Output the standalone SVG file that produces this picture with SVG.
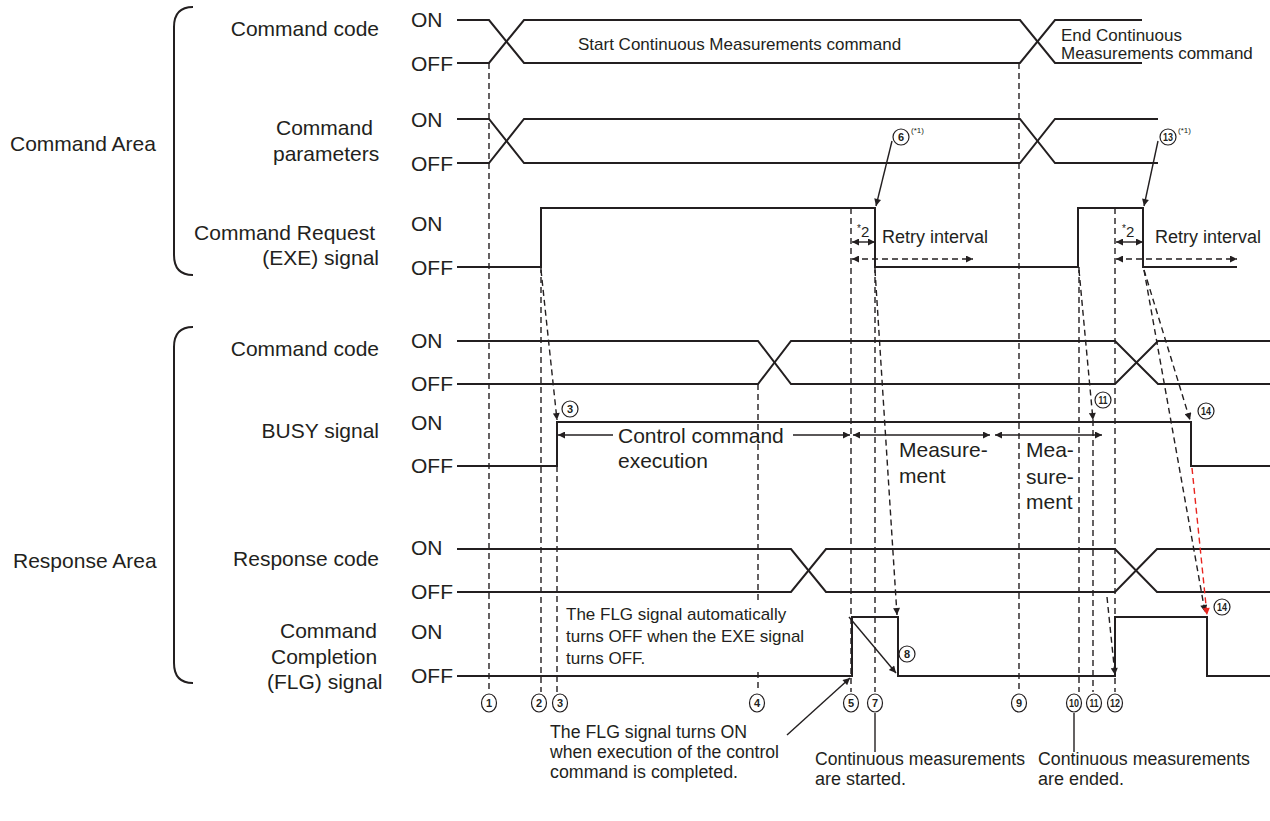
<svg xmlns="http://www.w3.org/2000/svg" width="1270" height="821" viewBox="0 0 1270 821">
<defs>
<style>
.sig{fill:none;stroke:#231f20;stroke-width:2}
.br{fill:none;stroke:#231f20;stroke-width:2}
.dash{fill:none;stroke:#231f20;stroke-width:1.4;stroke-dasharray:6 4}
.red{fill:none;stroke:#e8251f;stroke-width:1.4;stroke-dasharray:6 4}
.ln{fill:none;stroke:#231f20;stroke-width:1.4}
.t{font-family:"Liberation Sans",Arial,sans-serif;fill:#231f20}
.l21{font-size:21px}
.l18{font-size:18px}
.l17{font-size:17px}
.cn circle,.cn ellipse{fill:#fff;stroke:#231f20;stroke-width:1.2}
.cn text{font-family:"Liberation Sans",Arial,sans-serif;font-weight:bold;font-size:11px;fill:#231f20;text-anchor:middle}
.sup{font-family:"Liberation Sans",Arial,sans-serif;font-size:8px;fill:#231f20}
</style>
<marker id="ah" viewBox="0 0 10 10" refX="10" refY="5" markerWidth="9" markerHeight="7" markerUnits="userSpaceOnUse" orient="auto-start-reverse"><path d="M0,0 L10,5 L0,10 z" fill="#231f20"/></marker>
<marker id="ahr" viewBox="0 0 10 10" refX="10" refY="5" markerWidth="9" markerHeight="7" markerUnits="userSpaceOnUse" orient="auto"><path d="M0,0 L10,5 L0,10 z" fill="#e8251f"/></marker>
</defs>
<rect width="1270" height="821" fill="#fff"/>

<g id="command-area">
<path class="br" d="M193,7 Q174,7 174,27 V255 Q174,275 193,275"/>
<text class="t l21" x="10" y="151">Command Area</text>
</g>
<g id="response-area">
<path class="br" d="M193,327 Q174,327 174,347 V663 Q174,683 193,683"/>
<text class="t l21" x="13" y="568">Response Area</text>
</g>

<g id="cmd-code">
<text class="t l21" x="379" y="36" text-anchor="end">Command code</text>
<text class="t l21" x="411" y="27">ON</text>
<text class="t l21" x="411" y="71">OFF</text>
<path class="sig" d="M457,20 H489 L524,63 H1020 L1055,20 H1142"/>
<path class="sig" d="M457,63 H489 L524,20 H1020 L1055,63 H1142"/>
<text class="t l17" x="578" y="50">Start Continuous Measurements command</text>
<text class="t l17" x="1061" y="41">End Continuous</text>
<text class="t l17" x="1061" y="59">Measurements command</text>
</g>

<g id="cmd-params">
<text class="t l21" x="276" y="135">Command</text>
<text class="t l21" x="273" y="161">parameters</text>
<text class="t l21" x="411" y="127">ON</text>
<text class="t l21" x="411" y="171">OFF</text>
<path class="sig" d="M457,119 H489 L524,163 H1020 L1055,119 H1158"/>
<path class="sig" d="M457,163 H489 L524,119 H1020 L1055,163 H1158"/>
</g>

<g id="exe-signal">
<text class="t l21" x="375" y="240" text-anchor="end">Command Request</text>
<text class="t l21" x="379" y="265" text-anchor="end">(EXE) signal</text>
<text class="t l21" x="411" y="231">ON</text>
<text class="t l21" x="411" y="275">OFF</text>
<path class="sig" d="M457,267 H541 V208 H875 V267 H1078 V208 H1143 V267 H1237"/>
<text class="t l18" x="882" y="243">Retry interval</text>
<text class="t l18" x="1155" y="243">Retry interval</text>
<text class="t" x="857" y="237" font-size="15"><tspan font-size="10" dy="-5">*</tspan><tspan dy="5">2</tspan></text>
<text class="t" x="1122" y="237" font-size="15"><tspan font-size="10" dy="-5">*</tspan><tspan dy="5">2</tspan></text>
</g>

<g id="resp-cmd-code">
<text class="t l21" x="379" y="356" text-anchor="end">Command code</text>
<text class="t l21" x="411" y="348">ON</text>
<text class="t l21" x="411" y="391">OFF</text>
<path class="sig" d="M457,341 H758 L791,384 H1115 L1158,341 H1270"/>
<path class="sig" d="M457,384 H758 L791,341 H1115 L1158,384 H1270"/>
</g>

<g id="busy-signal">
<text class="t l21" x="379" y="438" text-anchor="end">BUSY signal</text>
<text class="t l21" x="411" y="430">ON</text>
<text class="t l21" x="411" y="473">OFF</text>
<path class="sig" d="M457,466 H557 V422 H1191 V466 H1270"/>
<text class="t l21" x="618" y="443">Control command</text>
<text class="t l21" x="618" y="468">execution</text>
<text class="t l21" x="899" y="457">Measure-</text>
<text class="t l21" x="899" y="483">ment</text>
<text class="t l21" x="1026" y="457">Mea-</text>
<text class="t l21" x="1026" y="484">sure-</text>
<text class="t l21" x="1026" y="509">ment</text>
</g>

<g id="response-code">
<text class="t l21" x="379" y="566" text-anchor="end">Response code</text>
<text class="t l21" x="411" y="555">ON</text>
<text class="t l21" x="411" y="599">OFF</text>
<path class="sig" d="M457,549 H791 L826,592 H1115 L1157,549 H1270"/>
<path class="sig" d="M457,592 H791 L826,549 H1115 L1157,592 H1270"/>
</g>

<g id="flg-signal">
<text class="t l21" x="280" y="638">Command</text>
<text class="t l21" x="271" y="664">Completion</text>
<text class="t l21" x="267" y="689">(FLG) signal</text>
<text class="t l21" x="411" y="639">ON</text>
<text class="t l21" x="411" y="683">OFF</text>
<path class="sig" d="M457,676 H852 V617 H898 V676 H1115 V617 H1207 V676 H1270"/>
<text class="t l17" x="566" y="620">The FLG signal automatically</text>
<text class="t l17" x="566" y="642">turns OFF when the EXE signal</text>
<text class="t l17" x="566" y="664">turns OFF.</text>
</g>

<g id="notes">
<text class="t l18" x="550" y="738" textLength="197" lengthAdjust="spacingAndGlyphs">The FLG signal turns ON</text>
<text class="t l18" x="550" y="758" textLength="229" lengthAdjust="spacingAndGlyphs">when execution of the control</text>
<text class="t l18" x="550" y="778" textLength="188" lengthAdjust="spacingAndGlyphs">command is completed.</text>
<text class="t l18" x="815" y="765" textLength="210" lengthAdjust="spacingAndGlyphs">Continuous measurements</text>
<text class="t l18" x="815" y="785">are started.</text>
<text class="t l18" x="1038" y="765" textLength="212" lengthAdjust="spacingAndGlyphs">Continuous measurements</text>
<text class="t l18" x="1038" y="785">are ended.</text>
</g>

<g id="connectors">
<path class="dash" d="M489,63 V692"/>
<path class="dash" d="M541,267 V692"/>
<path class="dash" d="M557,466 V692"/>
<path class="dash" d="M758,384 V603 M758,672 V692"/>
<path class="dash" d="M851,208 V692"/>
<path class="dash" d="M875,267 V692"/>
<path class="dash" d="M1019,63 V692"/>
<path class="dash" d="M1079,267 V692"/>
<path class="dash" d="M1093,420 V692"/>
<path class="dash" d="M1115,208 V692"/>
<path class="dash" d="M541,270 L557,420" marker-end="url(#ah)"/>
<path class="dash" d="M875,270 L897,615" marker-end="url(#ah)"/>
<path class="dash" d="M1079,270 L1093,420" marker-end="url(#ah)"/>
<path class="dash" d="M1144,270 L1190,420" marker-end="url(#ah)"/>
<path class="dash" d="M1144,270 L1205,612" marker-end="url(#ah)"/>
<path class="red" d="M1192,468 L1207,615" marker-end="url(#ahr)"/>
<path class="dash" d="M1107,597 L1115,675" marker-end="url(#ah)"/>
<path class="ln" d="M852,242 H875" marker-start="url(#ah)" marker-end="url(#ah)"/>
<path class="ln" d="M1116,242 H1143" marker-start="url(#ah)" marker-end="url(#ah)"/>
<path class="dash" d="M852,259 H973" marker-start="url(#ah)" marker-end="url(#ah)"/>
<path class="dash" d="M1116,259 H1237" marker-start="url(#ah)" marker-end="url(#ah)"/>
<path class="ln" d="M613,435 H558" marker-end="url(#ah)"/>
<path class="ln" d="M793,435 H850" marker-end="url(#ah)"/>
<path class="ln" d="M853,435 H990" marker-start="url(#ah)" marker-end="url(#ah)"/>
<path class="ln" d="M995,435 H1102" marker-start="url(#ah)" marker-end="url(#ah)"/>
<path class="ln" d="M892,141 L876,206" marker-end="url(#ah)"/>
<path class="ln" d="M1158,141 L1144,206" marker-end="url(#ah)"/>
<path class="ln" d="M849,617 L896,673" marker-end="url(#ah)"/>
<path class="ln" d="M787,735 L850,678" marker-end="url(#ah)"/>
<path class="ln" d="M875,713 V752"/>
<path class="ln" d="M1074,713 V752"/>
</g>

<g id="markers">
<g class="cn"><circle cx="901" cy="137" r="8"/><text x="901" y="141">6</text></g>
<text class="sup" x="911" y="133">(*1)</text>
<g class="cn"><circle cx="1168" cy="137" r="8"/><text x="1168" y="141" textLength="10" lengthAdjust="spacingAndGlyphs">13</text></g>
<text class="sup" x="1178" y="133">(*1)</text>
<g class="cn"><circle cx="570" cy="409" r="8"/><text x="570" y="413">3</text></g>
<g class="cn"><circle cx="1103" cy="400" r="8"/><text x="1103" y="404" textLength="9" lengthAdjust="spacingAndGlyphs">11</text></g>
<g class="cn"><circle cx="1206" cy="411" r="8"/><text x="1206" y="415" textLength="10" lengthAdjust="spacingAndGlyphs">14</text></g>
<g class="cn"><circle cx="907" cy="654" r="8"/><text x="907" y="658">8</text></g>
<g class="cn"><circle cx="1222" cy="607" r="8"/><text x="1222" y="611" textLength="10" lengthAdjust="spacingAndGlyphs">14</text></g>
<g class="cn"><ellipse cx="489" cy="703" rx="7.5" ry="9"/><text x="489" y="707">1</text></g>
<g class="cn"><ellipse cx="539" cy="703" rx="7.5" ry="9"/><text x="539" y="707">2</text></g>
<g class="cn"><ellipse cx="560" cy="703" rx="7.5" ry="9"/><text x="560" y="707">3</text></g>
<g class="cn"><ellipse cx="757" cy="703" rx="7.5" ry="9"/><text x="757" y="707">4</text></g>
<g class="cn"><ellipse cx="851" cy="703" rx="7.5" ry="9"/><text x="851" y="707">5</text></g>
<g class="cn"><ellipse cx="875" cy="703" rx="7.5" ry="9"/><text x="875" y="707">7</text></g>
<g class="cn"><ellipse cx="1019" cy="703" rx="7.5" ry="9"/><text x="1019" y="707">9</text></g>
<g class="cn"><ellipse cx="1074" cy="703" rx="7.5" ry="9"/><text x="1074" y="707" textLength="10" lengthAdjust="spacingAndGlyphs">10</text></g>
<g class="cn"><ellipse cx="1094" cy="703" rx="7.5" ry="9"/><text x="1094" y="707" textLength="9" lengthAdjust="spacingAndGlyphs">11</text></g>
<g class="cn"><ellipse cx="1115" cy="703" rx="7.5" ry="9"/><text x="1115" y="707" textLength="10" lengthAdjust="spacingAndGlyphs">12</text></g>
</g>
</svg>
